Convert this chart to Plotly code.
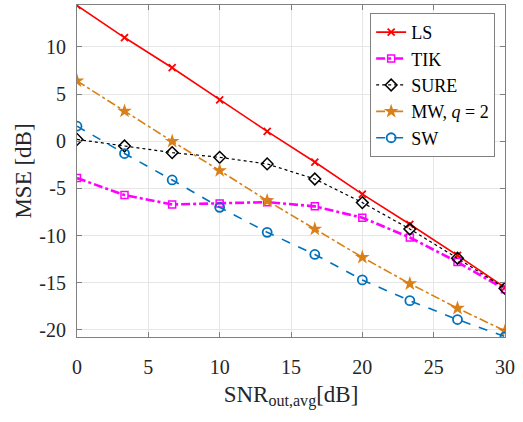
import plotly.graph_objects as go

snr = [0, 3.33, 6.67, 10, 13.33, 16.67, 20, 23.33, 26.67, 30]
ls = [14.4, 11.0, 7.8, 4.4, 1.05, -2.2, -5.6, -8.8, -12.1, -15.5]
tik = [-3.9, -5.7, -6.7, -6.6, -6.45, -6.9, -8.1, -10.2, -12.8, -15.7]
sure = [0.2, -0.5, -1.2, -1.7, -2.4, -4.0, -6.5, -9.3, -12.4, -15.6]
mw = [6.4, 3.2, 0.0, -3.1, -6.3, -9.3, -12.3, -15.1, -17.7, -20.1]
sw = [1.6, -1.3, -4.1, -7.0, -9.65, -12.0, -14.7, -16.9, -18.9, -20.7]

xticks = [0, 5, 10, 15, 20, 25, 30]
yticks = [-20, -15, -10, -5, 0, 5, 10]

font = "Liberation Serif, DejaVu Serif, Times New Roman, serif"
fig = go.Figure()
fig.add_trace(go.Scatter(x=snr, y=ls, name="LS", mode="lines+markers",
    line=dict(color="#FF0000", width=1.6),
    marker=dict(symbol="x-thin-open", size=7, color="#FF0000", line=dict(width=1.8, color="#FF0000"))))
fig.add_trace(go.Scatter(x=snr, y=tik, name="TIK", mode="lines+markers",
    line=dict(color="#FF00FF", width=2.6, dash="dashdot"),
    marker=dict(symbol="square-open", size=7, color="#FF00FF", line=dict(width=1.5))))
fig.add_trace(go.Scatter(x=snr, y=sure, name="SURE", mode="lines+markers",
    line=dict(color="#000000", width=1.2, dash="dot"),
    marker=dict(symbol="diamond-open", size=9, color="#000000", line=dict(width=1.5))))
fig.add_trace(go.Scatter(x=snr, y=mw, name="MW, <i>q</i> = 2", mode="lines+markers",
    line=dict(color="#D98019", width=1.6, dash="dashdot"),
    marker=dict(symbol="star", size=11, color="#D98019")))
fig.add_trace(go.Scatter(x=snr, y=sw, name="SW", mode="lines+markers",
    line=dict(color="#0072BD", width=1.6, dash="dash"),
    marker=dict(symbol="circle-open", size=9, color="#0072BD", line=dict(width=1.8))))

axis_common = dict(showline=True, linecolor="#808080", linewidth=1, mirror="allticks",
                   ticks="inside", ticklen=5, tickcolor="#808080",
                   showgrid=True, gridcolor="#E6E6E6", gridwidth=1, zeroline=False,
                   tickfont=dict(family=font, size=20, color="#262626"))
fig.update_xaxes(range=[0, 30], tickvals=xticks, ticktext=[str(v) for v in xticks],
                 ticklabelstandoff=12,
                 title=dict(text="SNR<sub>out,avg</sub>[dB]", font=dict(family=font, size=23, color="#262626"), standoff=8),
                 **axis_common)
fig.update_yaxes(range=[-20.75, 14.45], tickvals=yticks, ticktext=[str(v) for v in yticks],
                 ticklabelstandoff=6,
                 title=dict(text="MSE [dB]", font=dict(family=font, size=23, color="#262626"), standoff=1),
                 **axis_common)
fig.update_layout(width=523, height=422, margin=dict(l=77, r=18, t=5, b=85),
                  paper_bgcolor="white", plot_bgcolor="white",
                  legend=dict(x=0.977, y=0.976, xanchor="right", yanchor="top",
                              bgcolor="white", bordercolor="#808080", borderwidth=1,
                              font=dict(family=font, size=18, color="#000000"),
                              tracegroupgap=0, itemwidth=30))
fig.write_html("out.html")
